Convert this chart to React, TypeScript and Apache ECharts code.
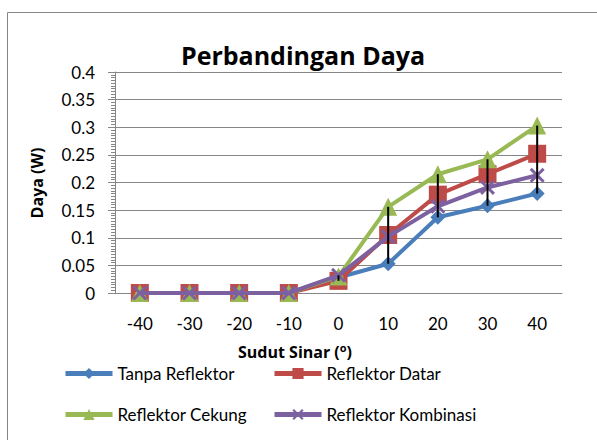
import React, { useEffect, useRef } from "react";
import * as echarts from "echarts";

const categories = ["-40", "-30", "-20", "-10", "0", "10", "20", "30", "40"];
const tanpaReflektor = [0, 0, 0, 0, 0.028, 0.053, 0.137, 0.158, 0.18];
const reflektorDatar = [0, 0, 0, 0, 0.022, 0.105, 0.178, 0.215, 0.252];
const reflektorCekung = [0, 0, 0, 0, 0.03, 0.156, 0.215, 0.242, 0.303];
const reflektorKombinasi = [0, 0, 0, 0, 0.032, 0.102, 0.157, 0.191, 0.213];
const seriesNames = ["Tanpa Reflektor", "Reflektor Datar", "Reflektor Cekung", "Reflektor Kombinasi"];
const yTicks = { min: 0, max: 0.4, interval: 0.05 };

const FONT = "Lato, 'Open Sans', sans-serif";
const BOLD_FONT = "'Open Sans', Lato, sans-serif";
const xSymbol =
  "path://M0,1.4 L1.4,0 L5,3.6 L8.6,0 L10,1.4 L6.4,5 L10,8.6 L8.6,10 L5,6.4 L1.4,10 L0,8.6 L3.6,5 Z";

export default function App() {
  const ref = useRef<HTMLDivElement>(null);
  useEffect(() => {
    if (!ref.current) return;
    const chart = echarts.init(ref.current, null, { renderer: "svg" });
    const all = [tanpaReflektor, reflektorDatar, reflektorCekung, reflektorKombinasi];
    const hiLo = categories.map((_, i) => {
      const vals = all.map((a) => a[i]);
      return [i, Math.max(...vals), Math.min(...vals)];
    });
    const colors = ["#4A7EBB", "#BE4B48", "#98B954", "#7D60A0"];
    const symbols = ["diamond", "rect", "triangle", xSymbol];
    const sizes = [15, 18, 18, 15];
    const data = [tanpaReflektor, reflektorDatar, reflektorCekung, reflektorKombinasi];
    const legendPos = [
      { left: 63, top: 365 },
      { left: 272, top: 365 },
      { left: 63, top: 406 },
      { left: 272, top: 406 },
    ];
    const option: any = {
      animation: false,
      backgroundColor: "#fff",
      textStyle: { fontFamily: FONT },
      grid: { left: 115, right: 35, top: 72, bottom: 147 },
      legend: seriesNames.map((n, i) => ({
        data: [n],
        left: legendPos[i].left,
        top: legendPos[i].top,
        padding: 0,
        itemWidth: 47,
        itemHeight: 14,
        lineStyle: { width: 5 },
        textStyle: { fontSize: 17, color: "#000", fontFamily: FONT, lineHeight: 16 },
        selectedMode: false,
      })),
      xAxis: {
        type: "category",
        data: categories,
        boundaryGap: true,
        axisLine: { show: true, lineStyle: { color: "#868686", width: 1 } },
        axisTick: { show: false },
        axisLabel: { fontSize: 17, color: "#000", margin: 22, fontFamily: FONT },
      },
      yAxis: {
        type: "value",
        min: yTicks.min,
        max: yTicks.max,
        interval: yTicks.interval,
        axisLine: { show: true, lineStyle: { color: "#868686", width: 1 } },
        axisTick: { show: true, length: 7, lineStyle: { color: "#868686" } },
        minorTick: { show: true, splitNumber: 10, length: 4, lineStyle: { color: "#868686" } },
        splitLine: { show: true, lineStyle: { color: "#868686", width: 1 } },
        axisLabel: {
          fontSize: 17,
          color: "#000",
          margin: 20,
          fontFamily: FONT,
          formatter: (v: number) => String(parseFloat(v.toFixed(3))),
        },
      },
      graphic: [
        {
          type: "rect",
          shape: { x: 7.5, y: 12.5, width: 620, height: 460 },
          style: { fill: "none", stroke: "#868686", lineWidth: 1 },
          silent: true,
          z: -1,
        },
        {
          type: "text",
          x: 303,
          y: 55,
          style: {
            text: "Perbandingan Daya",
            font: `bold 25px ${BOLD_FONT}`,
            fill: "#000",
            align: "center",
            verticalAlign: "middle",
          },
        },
        {
          type: "text",
          x: 37,
          y: 183,
          rotation: Math.PI / 2,
          style: {
            text: "Daya (W)",
            font: `bold 16px ${BOLD_FONT}`,
            fill: "#000",
            align: "center",
            verticalAlign: "middle",
          },
        },
        {
          type: "text",
          x: 295,
          y: 352,
          style: {
            text: "{a|Sudut Sinar (}{s|o}{a|)}",
            align: "center",
            verticalAlign: "middle",
            rich: {
              a: { font: `bold 16px ${BOLD_FONT}`, fill: "#000", lineHeight: 20 },
              s: { font: `bold 11px ${BOLD_FONT}`, fill: "#000", verticalAlign: "top", lineHeight: 11 },
            },
          },
        },
      ],
      series: [
        ...seriesNames.map((n, i) => ({
          name: n,
          type: "line",
          data: data[i],
          symbol: symbols[i],
          symbolSize: sizes[i],
          showAllSymbol: true,
          lineStyle: { color: colors[i], width: 4 },
          itemStyle: { color: colors[i] },
          z: 2 + i,
        })),
        {
          type: "custom",
          name: "hilo",
          data: hiLo,
          z: 10,
          silent: true,
          renderItem: (params: any, api: any) => {
            const x = api.value(0);
            const p1 = api.coord([x, api.value(1)]);
            const p2 = api.coord([x, api.value(2)]);
            return {
              type: "line",
              shape: { x1: p1[0], y1: p1[1], x2: p2[0], y2: p2[1] },
              style: { stroke: "#000", lineWidth: 2 },
            };
          },
        },
      ],
    };
    chart.setOption(option);
    return () => chart.dispose();
  }, []);
  return (
    <div
      ref={ref}
      style={{ position: "absolute", left: 0, top: 0, width: 597, height: 440 }}
    />
  );
}
